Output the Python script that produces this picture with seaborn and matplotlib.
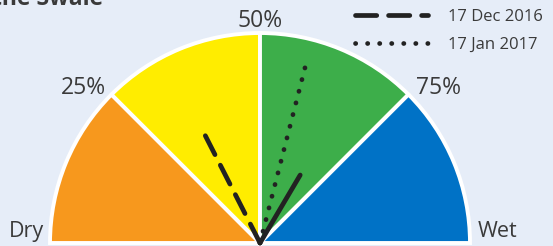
import numpy as np
import matplotlib
matplotlib.use("Agg")
import matplotlib.pyplot as plt
from matplotlib.patches import Wedge
from matplotlib.lines import Line2D
import seaborn as sns

# gauge bands (0-100 %, dry -> wet)
band_edges = [0, 25, 50, 75, 100]
band_colors = ["#F7981D", "#FFED00", "#3DAE4A", "#0072C6"]
tick_labels = ["25%", "50%", "75%"]

# needles
needle_labels = ["Today", "17 Dec 2016", "17 Jan 2017"]
needle_values = [67, 35, 58]        # percent
needle_lengths = [0.376, 0.577, 0.87]  # fraction of gauge radius

bg = "#E6EDF8"
ink = "#222222"
txt = "#3A3A3A"

sns.set_style("white")
plt.rcParams["font.family"] = ["Open Sans", "DejaVu Sans"]

fig = plt.figure(figsize=(5.53, 2.46), dpi=100)
fig.patch.set_facecolor(bg)
ax = fig.add_axes([0, 0, 1, 1])
ax.set_facecolor(bg)
ax.set_xlim(-260 / 210, 293 / 210)
ax.set_ylim(-3 / 210, 243 / 210)
ax.axis("off")


def ang(v):
    return 180 * (1 - v / 100)


for lo, hi, c in zip(band_edges[:-1], band_edges[1:], band_colors):
    ax.add_patch(Wedge((0, 0), 1.0, ang(hi), ang(lo), facecolor=c,
                       edgecolor="white", linewidth=2.8, zorder=1))

# tick labels around the rim
label_xy = [(-0.843, 0.738), (0.0, 1.057), (0.852, 0.738)]
for (x, y), lab in zip(label_xy, tick_labels):
    ax.text(x, y, lab, ha="center", va="center", fontsize=16.5, color=txt)

ax.text(-1.114, 0.057, "Dry", ha="center", va="center", fontsize=15.5, color=txt)
ax.text(1.133, 0.057, "Wet", ha="center", va="center", fontsize=15.5, color=txt)

styles = [dict(linestyle="-", solid_capstyle="round"),
          dict(linestyle=(0, (4.5, 2.5)), dash_capstyle="round"),
          dict(linestyle=(0, (0.05, 2.5)), dash_capstyle="round")]

handles = []
for v, L, lab, st in zip(needle_values, needle_lengths, needle_labels, styles):
    t = np.deg2rad(ang(v))
    sns.lineplot(x=[0, L * np.cos(t)], y=[0, L * np.sin(t)], ax=ax,
                 color=ink, linewidth=3.4, sort=False, zorder=3, **st)
    handles.append(Line2D([], [], color=ink, linewidth=3.4, label=lab, **st))

leg = ax.legend(handles=handles, loc="upper left", frameon=False,
                bbox_to_anchor=(340 / 553, 1 + 34 / 246), fontsize=12,
                handlelength=4.4, handletextpad=1.15, labelspacing=0.73,
                labelcolor=txt)

ax.text(103 / 210 - 260 / 210, 243 / 210 - 5 / 210, "the Swale", ha="right",
        va="baseline", fontsize=16.5, fontweight="bold", color=txt)

fig.savefig("out.png", dpi=100, facecolor=bg)
